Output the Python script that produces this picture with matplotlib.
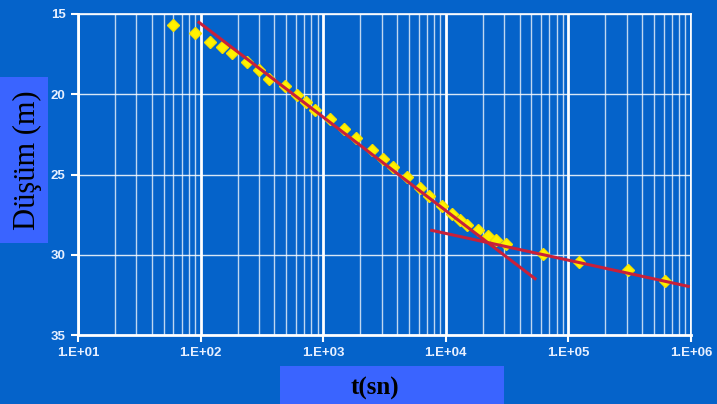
import matplotlib
matplotlib.use("Agg")
import matplotlib.pyplot as plt
from matplotlib.patches import Rectangle
from matplotlib.ticker import LogLocator, FixedLocator, NullFormatter

# Pumping-test drawdown readings: time (s) vs drawdown (m)
t_obs = [60, 90, 120, 150, 180, 240, 300, 360, 490, 610, 730, 850, 1130,
         1490, 1850, 2490, 3090, 3730, 4860, 6160, 7330, 9260, 11200,
         13100, 14800, 18400, 22200, 25700, 31000, 61500, 123000, 308000,
         613000]
s_obs = [15.68, 16.2, 16.76, 17.07, 17.41, 18.0, 18.48, 19.06, 19.46,
         20.04, 20.46, 20.97, 21.53, 22.17, 22.73, 23.46, 24.04, 24.54,
         25.16, 25.85, 26.37, 26.95, 27.43, 27.86, 28.13, 28.48, 28.81,
         29.06, 29.33, 29.93, 30.48, 30.97, 31.66]

# Straight-line fits (early and late segments)
fit1_t = [97, 53400]
fit1_s = [15.52, 31.49]
fit2_t = [7680, 950000]
fit2_s = [28.48, 31.97]

x_ticks = [1e1, 1e2, 1e3, 1e4, 1e5, 1e6]
x_tick_labels = ["1.E+01", "1.E+02", "1.E+03", "1.E+04", "1.E+05", "1.E+06"]
y_ticks = [15, 20, 25, 30, 35]

bg = "#0563CA"
box = "#3A64FF"

fig = plt.figure(figsize=(7.17, 4.04), dpi=100)
fig.patch.set_facecolor(bg)
ax = fig.add_axes([78 / 717, 1 - 335 / 404, (691 - 78) / 717, (335 - 14) / 404])
ax.set_facecolor(bg)

ax.set_xscale("log")
ax.set_xlim(1e1, 1e6)
ax.set_ylim(35, 15)

ax.xaxis.set_major_locator(FixedLocator(x_ticks))
ax.set_xticklabels(x_tick_labels)
ax.xaxis.set_minor_locator(LogLocator(base=10, subs=range(2, 10)))
ax.xaxis.set_minor_formatter(NullFormatter())
ax.set_yticks(y_ticks)

ax.grid(which="major", axis="x", color="white", lw=2.0)
ax.grid(which="minor", axis="x", color="white", lw=1.0, alpha=0.75)
ax.grid(which="major", axis="y", color="white", lw=1.0, alpha=0.85)

for side in ["left", "bottom"]:
    ax.spines[side].set_color("white")
    ax.spines[side].set_linewidth(2.0)
for side in ["top", "right"]:
    ax.spines[side].set_color("white")
    ax.spines[side].set_linewidth(1.2)

ax.tick_params(axis="both", which="major", colors="white", length=5, width=1.5,
               direction="out", labelsize=9.5, pad=4)
ax.tick_params(axis="x", which="minor", length=0)
for lab in ax.get_xticklabels() + ax.get_yticklabels():
    lab.set_fontfamily("Liberation Sans")
    lab.set_fontweight("bold")
    lab.set_color("#E8F0FF")

ax.plot(t_obs, s_obs, linestyle="none", marker="D", markersize=6,
        color="#FFF200", markeredgecolor="#F5E000", zorder=3, clip_on=False)
ax.plot(fit1_t, fit1_s, color="#C8203A", lw=2.2, zorder=4)
ax.plot(fit2_t, fit2_s, color="#C8203A", lw=2.2, zorder=4)

# Axis title boxes
fig.patches.append(Rectangle((0, 1 - 243 / 404), 48 / 717, (243 - 77) / 404,
                             transform=fig.transFigure, facecolor=box,
                             edgecolor="none", zorder=0))
fig.text(27 / 717, 1 - 160 / 404, "Düşüm (m)", rotation=90, ha="center",
         va="center", fontsize=22, family="Liberation Serif", color="black")

fig.patches.append(Rectangle((280 / 717, 0), (504 - 280) / 717, (404 - 366) / 404,
                             transform=fig.transFigure, facecolor=box,
                             edgecolor="none", zorder=0))
fig.text(375 / 717, 1 - 388 / 404, "t(sn)", ha="center", va="center",
         fontsize=18, family="Liberation Serif", fontweight="bold", color="black")

fig.savefig("out.png", dpi=100, facecolor=bg)
